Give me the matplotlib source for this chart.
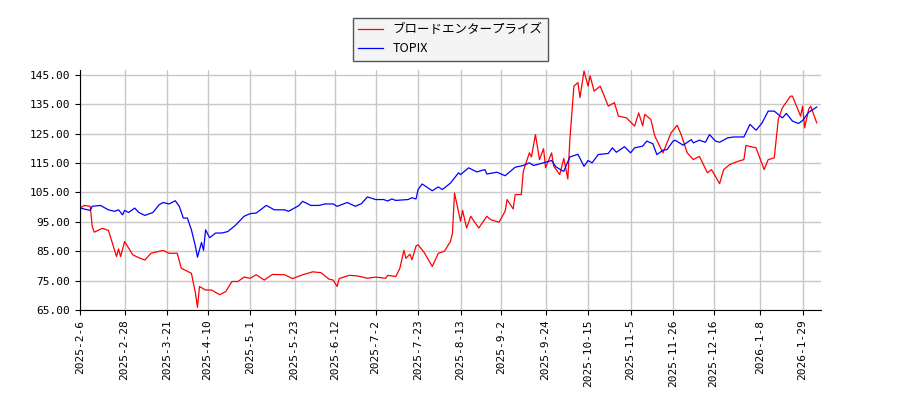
import matplotlib
matplotlib.use("Agg")
import matplotlib.pyplot as plt
import pandas as pd

plt.rcParams['font.family'] = ['Noto Sans CJK JP', 'DejaVu Sans']

start = pd.Timestamp("2025-02-06")

red_days = [0,2,5,6,7,11,14,18,19,20,22,26,29,32,35,41,44,48,50,55,57,58,59,62,65,69,72,75,78,81,
            84,87,91,95,101,105,110,115,119,123,125,127,128,133,137,142,146,151,152,156,158,160,161,163,164,166,
            167,170,174,177,180,183,184,185,188,189,191,193,197,201,203,207,210,211,214,215,218,219,222,223,225,227,229,230,233,234,
            237,239,241,242,244,246,247,249,251,252,254,257,261,264,266,270,274,276,278,279,282,284,288,290,292,295,297,300,303,306,
            310,312,316,318,321,325,328,329,334,338,340,343,345,347,351,352,356,357,358,360,361,364]
red_vals = [99.7,100.6,100.3,93.4,91.5,92.8,92.1,83.2,85.8,83.2,88.3,83.8,82.8,82.0,84.3,85.3,84.3,84.3,79.2,77.5,
            70.7,65.9,73.0,71.8,71.8,70.2,71.3,74.7,74.7,76.2,75.8,77.0,75.2,77.1,77.0,75.7,77.0,78.0,77.7,75.5,
            75.2,73.0,75.7,76.8,76.6,75.8,76.2,75.8,76.8,76.4,79.2,85.3,82.6,84.0,82.1,86.8,
            87.2,84.6,79.8,84.3,85.0,88.3,91.2,104.8,95.2,98.9,92.9,96.9,92.9,96.9,95.7,94.9,98.6,102.6,99.4,104.3,
            104.3,112.2,118.5,117.1,124.7,116.2,119.9,113.4,118.5,114.0,111.1,116.6,109.6,123.0,141.2,142.4,137.3,146.4,141.2,144.7,
            139.5,141.2,134.4,135.6,131.0,130.4,127.6,132.1,127.7,131.6,129.9,124.2,118.5,121.9,125.3,127.9,124.7,118.5,116.2,117.3,
            111.7,112.8,108.0,112.8,114.5,115.6,116.2,121.0,120.2,112.8,116.2,116.8,129.9,133.8,137.8,137.8,131.0,134.4,127.0,133.3,
            134.4,128.7]

blue_days = [0,5,6,10,14,17,19,21,22,24,27,29,32,36,39,41,44,47,49,51,53,55,57,58,60,61,62,64,67,70,
             73,77,81,84,87,92,96,101,103,108,110,114,118,121,125,127,132,136,139,142,146,150,152,154,156,162,164,166,
             167,169,174,177,179,183,187,188,192,196,200,201,206,210,215,219,222,224,229,233,235,238,239,242,246,249,
             251,253,256,261,263,265,269,272,274,278,280,283,285,288,290,293,294,298,302,303,306,309,311,314,316,320,
             323,328,331,334,337,340,343,347,349,352,355,357,360,364]
blue_vals = [99.7,98.9,100.3,100.6,99.1,98.6,99.1,97.4,98.9,98.2,99.7,98.2,97.2,98.2,100.8,101.6,101.1,102.2,100.3,96.3,
             96.3,92.3,86.6,83.0,88.0,85.3,92.3,89.6,91.2,91.2,91.7,94.0,96.9,97.8,98.0,100.6,99.1,99.1,98.6,100.5,
             102.0,100.6,100.6,101.1,101.1,100.3,101.6,100.3,101.2,103.5,102.6,102.6,102.1,102.8,102.3,102.6,103.2,102.8,
             106.0,107.9,105.6,106.9,106.0,108.2,111.7,111.1,113.4,112.0,112.8,111.3,111.9,110.7,113.6,114.2,115.1,114.2,
             115.1,115.9,113.8,112.5,112.2,117.1,118.0,113.9,115.9,115.1,117.9,118.3,120.2,118.7,120.6,118.5,120.2,120.8,
             122.5,121.6,117.9,119.4,119.6,122.5,122.8,121.1,123.0,121.9,122.8,122.1,124.7,122.5,122.1,123.6,123.9,123.9,
             128.2,126.2,128.7,132.7,132.7,130.4,131.9,129.3,128.5,129.5,132.3,134.1]

red_dates = start + pd.to_timedelta(red_days, unit="D")
blue_dates = start + pd.to_timedelta(blue_days, unit="D")

tick_labels = ["2025-2-6", "2025-2-28", "2025-3-21", "2025-4-10", "2025-5-1", "2025-5-23",
               "2025-6-12", "2025-7-2", "2025-7-23", "2025-8-13", "2025-9-2", "2025-9-24",
               "2025-10-15", "2025-11-5", "2025-11-26", "2025-12-16", "2026-1-8", "2026-1-29"]
tick_dates = pd.to_datetime(tick_labels, format="%Y-%m-%d")
y_ticks = [65, 75, 85, 95, 105, 115, 125, 135, 145]

fig = plt.figure(figsize=(9, 4), dpi=100)
ax = fig.add_axes([0.089, 0.225, 0.823, 0.6])
ax.plot(red_dates, red_vals, color="red", lw=0.9, label="ブロードエンタープライズ")
ax.plot(blue_dates, blue_vals, color="blue", lw=0.9, label="TOPIX")
ax.set_xlim(start, start + pd.Timedelta(days=366))
ax.set_ylim(65, 146.7)
ax.set_yticks(y_ticks)
ax.set_yticklabels([f"{v:.2f}" for v in y_ticks], fontsize=8, family="DejaVu Sans Mono")
ax.set_xticks(tick_dates)
ax.set_xticklabels(tick_labels, rotation=90, fontsize=8, family="DejaVu Sans Mono")
ax.grid(True, color="#c8c8c8", lw=1)
ax.set_axisbelow(True)
for s in ["top", "right"]:
    ax.spines[s].set_visible(False)
fig.legend(loc="upper center", bbox_to_anchor=(0.5, 0.97), fontsize=9, fancybox=False,
           edgecolor="#555555", facecolor="#f4f4f4", framealpha=1)
fig.savefig("out.png", dpi=100)
